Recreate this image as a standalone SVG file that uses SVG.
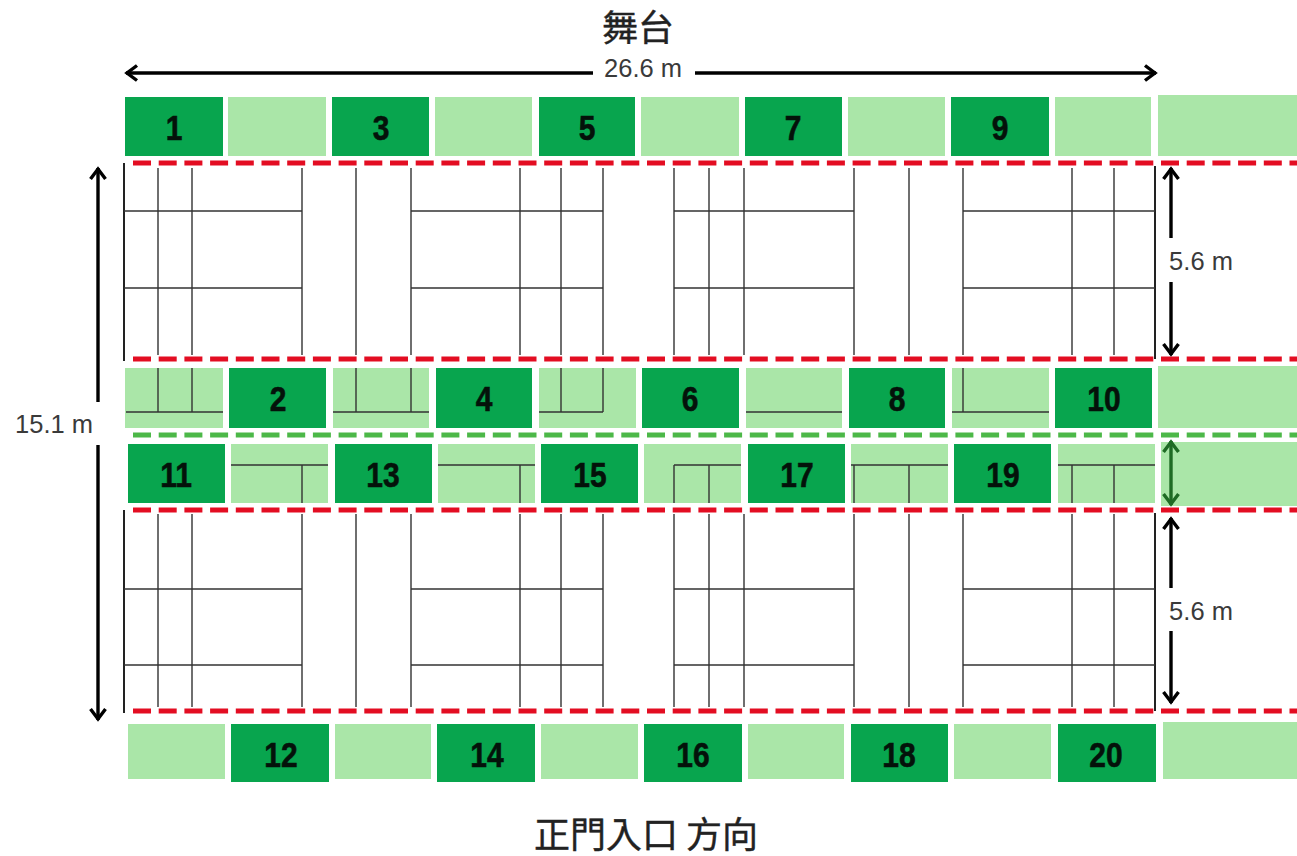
<svg xmlns="http://www.w3.org/2000/svg" width="1297" height="856" viewBox="0 0 1297 856">
<style>
.d{fill:#08a54e}.l{fill:#aae6a8}
.n{font:bold 30px "Liberation Sans",Arial,sans-serif;fill:#04120a;stroke:#04120a;stroke-width:.5;text-anchor:middle;transform-box:fill-box;transform-origin:center;transform:scaleY(1.15)}
.t{font:25.5px "Liberation Sans",Arial,sans-serif;fill:#3a3a3a;text-anchor:middle}
.c{font:400 36px "Noto Sans CJK TC","Noto Sans CJK JP",sans-serif;fill:#222;stroke:#222;stroke-width:.4;text-anchor:middle}
.g{stroke:#333;stroke-width:1.4;fill:none}
.e{stroke:#222;stroke-width:2;fill:none}
.r{stroke:#e30d22;stroke-width:5;stroke-dasharray:18 7.7;fill:none}
.s{stroke:#4cb848;stroke-width:5;stroke-dasharray:18 7.7;fill:none}
.a{stroke:#000;stroke-width:3.4;fill:none}
.ag{stroke:#1f6b25;stroke-width:3.4;fill:none}
</style>
<defs>
<marker id="h" viewBox="-14 -10 16 20" refX="0" refY="0" markerWidth="16" markerHeight="20" markerUnits="userSpaceOnUse" orient="auto"><path d="M-11 -7.5L-1 0L-11 7.5" fill="none" stroke="#000" stroke-width="3.4"/></marker>
<marker id="hg" viewBox="-14 -10 16 20" refX="0" refY="0" markerWidth="16" markerHeight="20" markerUnits="userSpaceOnUse" orient="auto"><path d="M-11 -7.5L-1 0L-11 7.5" fill="none" stroke="#1f6b25" stroke-width="3.4"/></marker>
</defs>
<rect width="1297" height="856" fill="#fff"/>
<g id="seats-row-1">
<g id="seat-1"><rect class="d" x="125" y="97" width="98" height="59"/><text class="n" x="174" y="138">1</text></g>
<rect class="l" x="228" y="97" width="98" height="59"/>
<g id="seat-3"><rect class="d" x="332" y="97" width="97" height="59"/><text class="n" x="381" y="138">3</text></g>
<rect class="l" x="435" y="97" width="97" height="59"/>
<g id="seat-5"><rect class="d" x="539" y="97" width="96" height="59"/><text class="n" x="587" y="138">5</text></g>
<rect class="l" x="641" y="97" width="98" height="59"/>
<g id="seat-7"><rect class="d" x="745" y="97" width="97" height="59"/><text class="n" x="793" y="138">7</text></g>
<rect class="l" x="848" y="97" width="97" height="59"/>
<g id="seat-9"><rect class="d" x="951" y="97" width="98" height="59"/><text class="n" x="1000" y="138">9</text></g>
<rect class="l" x="1055" y="97" width="96" height="59"/>
<rect class="l" x="1158" y="95" width="139" height="61"/>
</g>
<g id="seats-row-2">
<rect class="l" x="125" y="368" width="98" height="60"/>
<g id="seat-2"><rect class="d" x="229" y="368" width="97" height="60"/><text class="n" x="278" y="409">2</text></g>
<rect class="l" x="333" y="368" width="96" height="60"/>
<g id="seat-4"><rect class="d" x="436" y="368" width="96" height="60"/><text class="n" x="484" y="409">4</text></g>
<rect class="l" x="539" y="368" width="97" height="60"/>
<g id="seat-6"><rect class="d" x="642" y="368" width="97" height="60"/><text class="n" x="690" y="409">6</text></g>
<rect class="l" x="746" y="368" width="96" height="60"/>
<g id="seat-8"><rect class="d" x="849" y="368" width="96" height="60"/><text class="n" x="897" y="409">8</text></g>
<rect class="l" x="952" y="368" width="97" height="60"/>
<g id="seat-10"><rect class="d" x="1055" y="368" width="97" height="60"/><text class="n" x="1104" y="409">10</text></g>
<rect class="l" x="1158" y="366" width="139" height="62"/>
</g>
<g id="seats-row-3">
<g id="seat-11"><rect class="d" x="128" y="444" width="97" height="59"/><text class="n" x="176" y="485">11</text></g>
<rect class="l" x="231" y="444" width="97" height="59"/>
<g id="seat-13"><rect class="d" x="335" y="444" width="97" height="59"/><text class="n" x="383" y="485">13</text></g>
<rect class="l" x="438" y="444" width="97" height="59"/>
<g id="seat-15"><rect class="d" x="541" y="444" width="97" height="59"/><text class="n" x="590" y="485">15</text></g>
<rect class="l" x="644" y="444" width="97" height="59"/>
<g id="seat-17"><rect class="d" x="748" y="444" width="97" height="59"/><text class="n" x="797" y="485">17</text></g>
<rect class="l" x="851" y="444" width="97" height="59"/>
<g id="seat-19"><rect class="d" x="954" y="444" width="97" height="59"/><text class="n" x="1003" y="485">19</text></g>
<rect class="l" x="1058" y="444" width="97" height="59"/>
<rect class="l" x="1161" y="442" width="136" height="64"/>
</g>
<g id="seats-row-4">
<rect class="l" x="128" y="724" width="97" height="55"/>
<g id="seat-12"><rect class="d" x="231" y="724" width="98" height="58"/><text class="n" x="281" y="765">12</text></g>
<rect class="l" x="335" y="724" width="96" height="55"/>
<g id="seat-14"><rect class="d" x="437" y="724" width="98" height="58"/><text class="n" x="487" y="765">14</text></g>
<rect class="l" x="541" y="724" width="97" height="55"/>
<g id="seat-16"><rect class="d" x="644" y="724" width="98" height="58"/><text class="n" x="693" y="765">16</text></g>
<rect class="l" x="748" y="724" width="96" height="55"/>
<g id="seat-18"><rect class="d" x="851" y="724" width="97" height="58"/><text class="n" x="899" y="765">18</text></g>
<rect class="l" x="954" y="724" width="97" height="55"/>
<g id="seat-20"><rect class="d" x="1058" y="724" width="98" height="58"/><text class="n" x="1106" y="765">20</text></g>
<rect class="l" x="1163" y="722" width="134" height="57"/>
</g>
<g id="court-lines">
<path class="e" d="M124 163V361M124 510V713M1155 166V359M1155 513V711"/>
<path class="g" d="M158 168V355M192 168V355M302 168V355M356 168V355M411 168V355M520 168V355M561 168V355M603 168V355M674 168V355M709 168V355M744 168V355M854 168V355M909 168V355M963 168V355M1072 168V355M1114 168V355"/>
<path class="g" d="M158 368V412M192 368V412M356 368V412M411 368V412M561 368V412M603 368V412M963 368V412"/>
<path class="g" d="M124 211H302M124 288H302M411 211H603M411 288H603M674 211H854M674 288H854M963 211H1155M963 288H1155"/>
<path class="g" d="M126 412H223M333 412H429M539 412H603M746 412H842M952 412H1049"/>
<path class="g" d="M231 465H328M438 465H535M674 465H741M851 465H948M1058 465H1155"/>
<path class="g" d="M302 465V503M520 465V503M674 465V503M709 465V503M854 465V503M909 465V503M1072 465V503M1114 465V503"/>
<path class="g" d="M158 514V707M192 514V707M302 514V707M356 514V707M411 514V707M520 514V707M561 514V707M603 514V707M674 514V707M709 514V707M744 514V707M854 514V707M909 514V707M963 514V707M1072 514V707M1114 514V707"/>
<path class="g" d="M124 589H302M124 665H302M411 589H603M411 665H603M674 589H854M674 665H854M963 589H1155M963 665H1155"/>
</g>
<g id="dashed-lines">
<path class="r" d="M133 163H1297M133 359H1297M133 510H1297M133 711H1297"/>
<path class="s" d="M133 435H1297"/>
</g>
<g id="dimension-arrows">
<path class="a" marker-end="url(#h)" d="M593 73H126"/>
<path class="a" marker-end="url(#h)" d="M695 73H1156"/>
<path class="a" marker-end="url(#h)" d="M98 402V168"/>
<path class="a" marker-end="url(#h)" d="M98 445V720"/>
<path class="a" marker-end="url(#h)" d="M1171 238V168"/>
<path class="a" marker-end="url(#h)" d="M1171 282V355"/>
<path class="a" marker-end="url(#h)" d="M1171 588V518"/>
<path class="a" marker-end="url(#h)" d="M1171 631V703"/>
<path class="ag" marker-end="url(#hg)" d="M1171 473V441"/>
<path class="ag" marker-end="url(#hg)" d="M1171 473V505"/>
</g>
<g id="labels">
<text class="c" x="638" y="41">舞台</text>
<text class="t" x="643" y="77">26.6 m</text>
<text class="t" x="54" y="433">15.1 m</text>
<text class="t" x="1201" y="270">5.6 m</text>
<text class="t" x="1201" y="620">5.6 m</text>
<text class="c" x="646" y="848" xml:space="preserve">正門入口 方向</text>
</g>
</svg>
